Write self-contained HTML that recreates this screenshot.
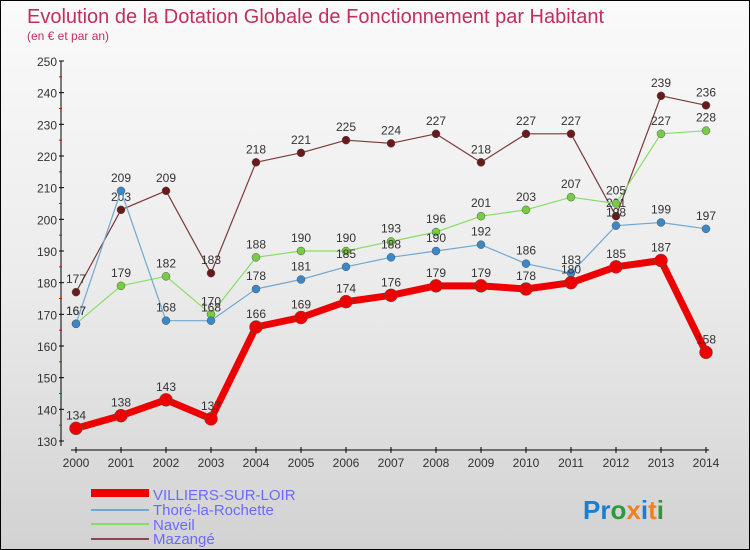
<!DOCTYPE html>
<html><head><meta charset="utf-8"><style>
body{margin:0}
#c{width:748px;height:548px;border:1px solid #000;background:linear-gradient(#fafafa,#ececec 50%,#d2d2d2);position:relative;font-family:"Liberation Sans",sans-serif;overflow:hidden}
text{font-family:"Liberation Sans",sans-serif}
</style></head><body>
<div id="c">
<svg id="s" width="748" height="548">
<text x="26" y="22" font-size="20" fill="#c0305a">Evolution de la Dotation Globale de Fonctionnement par Habitant</text>
<text x="26" y="39" font-size="12" fill="#c0305a">(en € et par an)</text>
<g id="axes"></g><g id="series"></g>
<g>
<rect x="90" y="488" width="58" height="8" fill="#e00"/>
<text x="152" y="499" font-size="15" fill="#6a6aff">VILLIERS-SUR-LOIR</text>
<rect x="90" y="508" width="58" height="2" fill="#6fa8d0"/>
<text x="152" y="514" font-size="15" fill="#6a6aff">Thoré-la-Rochette</text>
<rect x="90" y="522" width="58" height="2" fill="#88dd66"/>
<text x="152" y="529" font-size="15" fill="#6a6aff">Naveil</text>
<rect x="90" y="537" width="58" height="2" fill="#8b4a4a"/>
<text x="152" y="543" font-size="15" fill="#6a6aff">Mazangé</text>
</g>
<text x="582" y="518" font-size="26" font-weight="bold"><tspan fill="#1a7fd0">Pr</tspan><tspan fill="#2a9a3a">o</tspan><tspan fill="#f08020">x</tspan><tspan fill="#1a7fd0">i</tspan><tspan fill="#f08020">t</tspan><tspan fill="#2a9a3a">i</tspan></text>
</svg></div>
<script>
const years=[2000,2001,2002,2003,2004,2005,2006,2007,2008,2009,2010,2011,2012,2013,2014];
const yTicks=[130,140,150,160,170,180,190,200,210,220,230,240,250];
const villiers=[134,138,143,137,166,169,174,176,179,179,178,180,185,187,158];
const thore=[167,209,168,168,178,181,185,188,190,192,186,183,198,199,197];
const naveil=[167,179,182,170,188,190,190,193,196,201,203,207,205,227,228];
const mazange=[177,203,209,183,218,221,225,224,227,218,227,227,201,239,236];
const NS="http://www.w3.org/2000/svg";
function X(i){return 75+i*45;}
function Y(v){return 60+(250-v)*380/120;}
function mk(t,a,p){const e=document.createElementNS(NS,t);for(const k in a)e.setAttribute(k,a[k]);p.appendChild(e);return e;}
const ax=document.getElementById('axes');
let l=mk('line',{x1:60,y1:60,x2:60,y2:445,stroke:'#000'},ax);


l=mk('line',{x1:70,y1:449,x2:708,y2:449,stroke:'#000'},ax);


yTicks.forEach((v,i)=>{
 mk('line',{x1:58,y1:Y(v),x2:63,y2:Y(v),stroke:'#000'},ax);
 if(i<yTicks.length-1)mk('line',{x1:58,y1:Y(v+5),x2:61,y2:Y(v+5),stroke:'#e00'},ax);
 const t=mk('text',{x:56,y:Y(v)+5,'font-size':12,fill:'#333','text-anchor':'end'},ax);t.textContent=v;
 
 
});
years.forEach((y,i)=>{
 mk('line',{x1:X(i),y1:446,x2:X(i),y2:452,stroke:'#000'},ax);
 const t=mk('text',{x:X(i),y:466,'font-size':12,fill:'#333','text-anchor':'middle'},ax);t.textContent=y;
 
 
});
const sg=document.getElementById('series');
function draw(name,data,color,w,r,fill){
 const g=mk('g',{},sg);
 
 
 const p=mk('polyline',{points:data.map((v,i)=>X(i)+','+Y(v)).join(' '),fill:'none',stroke:color,'stroke-width':w,'stroke-linejoin':'round'},g);
 
 
 data.forEach((v,i)=>{
  const c=mk('circle',{cx:X(i),cy:Y(v),r:r,fill:fill,stroke:'#555','stroke-width':0.5},g);
  
  
  const t=mk('text',{x:X(i),y:Y(v)-9,'font-size':12,fill:'#333','text-anchor':'middle'},g);t.textContent=v;
  
  
 });
}
draw('mazange',mazange,'#7a3a3a',1.2,4,'#6a1a1a');
draw('naveil',naveil,'#88dd66',1.2,4,'#77cc44');
draw('thore',thore,'#6fa8d0',1.2,4,'#3a88c8');
draw('villiers',villiers,'#e00',7,6.5,'#e00');
</script>
</body></html>
